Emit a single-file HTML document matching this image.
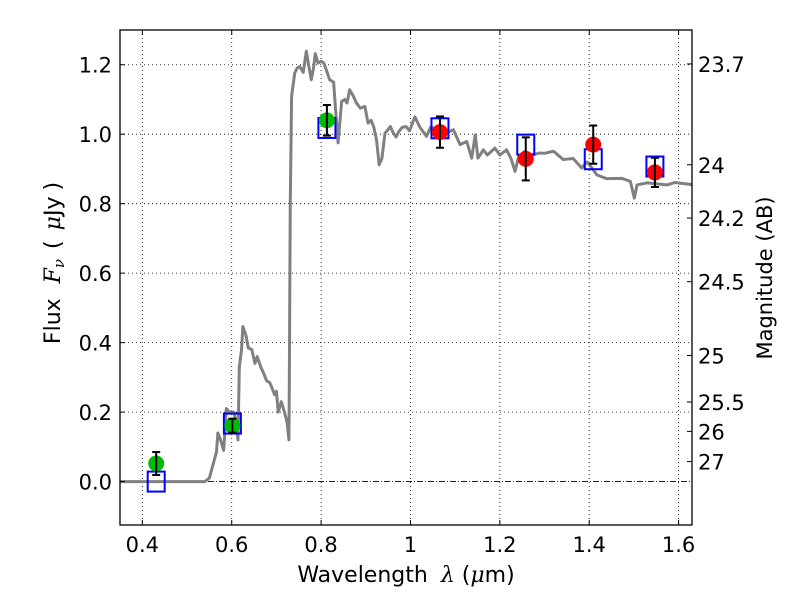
<!DOCTYPE html>
<html><head><meta charset="utf-8"><style>
html,body{margin:0;padding:0;background:#fff;}
svg{display:block;font-family:"DejaVu Sans","Liberation Sans",sans-serif;}
</style></head><body>
<svg id="chart" width="800" height="600" viewBox="0 0 800 600">
<rect width="800" height="600" fill="#fff"/>
<g id="grid"></g>
<g id="marks"></g>
<g id="axes"></g>
<text x="406" y="582" font-size="22" text-anchor="middle">Wavelength <tspan dx="6" font-family="DejaVu Serif" font-style="italic">λ</tspan> (<tspan font-family="DejaVu Serif" font-style="italic">μ</tspan>m)</text>
<text transform="translate(60,263) rotate(-90)" font-size="22" text-anchor="middle">Flux <tspan dx="8" font-family="DejaVu Serif" font-style="italic">F<tspan font-size="15" dy="4">ν</tspan></tspan><tspan dy="-4" dx="10">(</tspan><tspan dx="10" font-family="DejaVu Serif" font-style="italic">μ</tspan>Jy<tspan dx="6">)</tspan></text>
<text transform="translate(772,278) rotate(-90)" font-size="21" text-anchor="middle">Magnitude (AB)</text>
</svg>
<script>
const xTicks=[0.4,0.6,0.8,1.0,1.2,1.4,1.6];
const xTickLabels=["0.4","0.6","0.8","1","1.2","1.4","1.6"];
const yTicks=[0,0.2,0.4,0.6,0.8,1.0,1.2];
const yTickLabels=["0.0","0.2","0.4","0.6","0.8","1.0","1.2"];
const magTicks=[23.7,24,24.2,24.5,25,25.5,26,27];
const magTickLabels=["23.7","24","24.2","24.5","25","25.5","26","27"];
const specWl=[0.35,0.54,0.55,0.566,0.569,0.575,0.582,0.588,0.595,0.605,0.61,0.614,0.617,0.622,0.625,0.632,0.637,0.645,0.652,0.657,0.665,0.672,0.678,0.685,0.69,0.696,0.7,0.704,0.711,0.718,0.724,0.728,0.729,0.731,0.734,0.741,0.746,0.752,0.76,0.767,0.772,0.778,0.783,0.787,0.793,0.8,0.806,0.813,0.819,0.828,0.833,0.838,0.846,0.853,0.858,0.864,0.872,0.879,0.888,0.898,0.905,0.912,0.918,0.924,0.93,0.936,0.943,0.955,0.961,0.968,0.974,0.982,0.99,0.998,1.01,1.021,1.036,1.045,1.06,1.075,1.096,1.111,1.126,1.137,1.145,1.151,1.163,1.172,1.189,1.2,1.215,1.225,1.234,1.242,1.255,1.27,1.29,1.3,1.32,1.342,1.364,1.383,1.395,1.405,1.417,1.439,1.473,1.492,1.501,1.507,1.53,1.574,1.592,1.63];
const specFlux=[0,0,0.01,0.086,0.14,0.12,0.09,0.21,0.2,0.2,0.17,0.12,0.33,0.38,0.446,0.42,0.385,0.38,0.34,0.36,0.33,0.31,0.29,0.285,0.27,0.25,0.26,0.2,0.23,0.2,0.17,0.12,0.3,0.8,1.11,1.176,1.19,1.195,1.178,1.239,1.2,1.157,1.19,1.232,1.205,1.21,1.205,1.18,1.157,1.15,1.06,0.975,1.094,1.1,1.09,1.128,1.11,1.09,1.075,1.08,1.032,1.04,1.02,0.984,0.912,0.93,1.003,1.022,1.005,0.992,1.008,1.02,1.022,1.01,1.05,1.02,0.994,1.02,1.015,1.0,1.013,0.97,0.979,0.931,0.998,0.931,0.955,0.94,0.96,0.94,0.955,0.93,0.893,0.935,0.95,0.94,0.946,0.945,0.951,0.927,0.93,0.903,0.92,0.905,0.883,0.872,0.873,0.864,0.816,0.854,0.86,0.854,0.861,0.855];
const photWl=[0.431,0.6015,0.813];
const photFlux=[0.052,0.161,1.04];
const photErr=[0.033,0.02,0.044];
const nirWl=[1.066,1.258,1.409,1.547];
const nirFlux=[1.006,0.929,0.97,0.89];
const nirErr=[0.045,0.062,0.055,0.042];
const modelWl=[0.431,0.6015,0.813,1.066,1.258,1.409,1.547];
const modelFlux=[0.0,0.167,1.018,1.017,0.97,0.928,0.907];

const L=120,R=692,T=30,B=525,XMIN=0.35,XMAX=1.63,YMIN=-0.125,YMAX=1.3;
const xs=v=>L+(v-XMIN)/(XMAX-XMIN)*(R-L);
const ys=v=>B-(v-YMIN)/(YMAX-YMIN)*(B-T);
const NS="http://www.w3.org/2000/svg";
function mk(parent,tag,attrs){const e=document.createElementNS(NS,tag);for(const k in attrs)e.setAttribute(k,attrs[k]);parent.appendChild(e);return e;}
const grid=document.getElementById('grid'),marks=document.getElementById('marks'),axes=document.getElementById('axes');

xTicks.forEach((v,i)=>{
  const x=xs(v);
  const g=mk(grid,'line',{x1:x,x2:x,y1:T,y2:B,stroke:'#000','stroke-width':0.8,'stroke-dasharray':'1,3'});
  
  
  mk(axes,'line',{x1:x,x2:x,y1:B,y2:B-5,stroke:'#000','stroke-width':1});
  mk(axes,'line',{x1:x,x2:x,y1:T,y2:T+5,stroke:'#000','stroke-width':1});
  const t=mk(axes,'text',{x:x,y:B+27,'font-size':21,'text-anchor':'middle'});
  t.textContent=xTickLabels[i];
  
  
});
yTicks.forEach((v,i)=>{
  const y=ys(v);
  if(v!==0){
    const g=mk(grid,'line',{x1:L,x2:R,y1:y,y2:y,stroke:'#000','stroke-width':0.8,'stroke-dasharray':'1,3'});
    
    
  }
  mk(axes,'line',{x1:L,x2:L+5,y1:y,y2:y,stroke:'#000','stroke-width':1});
  const t=mk(axes,'text',{x:L-8,y:y+8,'font-size':21,'text-anchor':'end'});
  t.textContent=yTickLabels[i];
  
  
});
magTicks.forEach((m,i)=>{
  const y=ys(Math.pow(10,(23.9-m)/2.5));
  mk(axes,'line',{x1:R-5,x2:R,y1:y,y2:y,stroke:'#000','stroke-width':1});
  const t=mk(axes,'text',{x:R+6,y:y+8,'font-size':21,'text-anchor':'start'});
  t.textContent=magTickLabels[i];
  
  
});
const z=mk(grid,'line',{x1:L,x2:R,y1:ys(0),y2:ys(0),stroke:'#000','stroke-width':0.8,'stroke-dasharray':'6,2,1,2'});


const sp=mk(marks,'polyline',{points:specWl.map((w,i)=>xs(w)+','+ys(specFlux[i])).join(' '),fill:'none',stroke:'#808080','stroke-width':3,'stroke-linejoin':'round'});


function point(w,f,e,color,name){
  const x=xs(w),y=ys(f);
  const c=mk(marks,'circle',{cx:x,cy:y,r:8,fill:color});
  
  
  const g=mk(marks,'g',{stroke:'#000','stroke-width':2});
  
  
  mk(g,'line',{x1:x,x2:x,y1:ys(f+e),y2:ys(f-e)});
  mk(g,'line',{x1:x-4,x2:x+4,y1:ys(f+e),y2:ys(f+e)});
  mk(g,'line',{x1:x-4,x2:x+4,y1:ys(f-e),y2:ys(f-e)});
}
modelWl.forEach((w,i)=>{
  const x=xs(w),y=ys(modelFlux[i]);
  const r=mk(marks,'rect',{x:x-8.5,y:y-10,width:17,height:20,fill:'none',stroke:'#0000ff','stroke-width':2});
  
  
});
photWl.forEach((w,i)=>point(w,photFlux[i],photErr[i],'#00bb00','optical-point'));
nirWl.forEach((w,i)=>point(w,nirFlux[i],nirErr[i],'#ff0000','nir-point'));
const fr=mk(axes,'rect',{x:L,y:T,width:R-L,height:B-T,fill:'none',stroke:'#000','stroke-width':1.3});


</script>
</body></html>
